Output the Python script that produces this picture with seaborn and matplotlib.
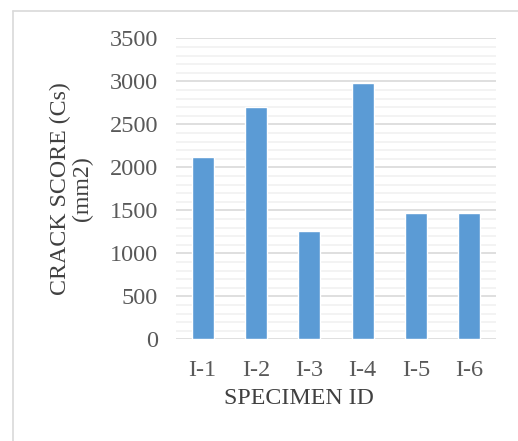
import matplotlib
matplotlib.use("Agg")
import matplotlib.pyplot as plt
from matplotlib.lines import Line2D
from matplotlib.ticker import MultipleLocator
import seaborn as sns
import pandas as pd

# Crack score per specimen
specimens = ["I-1", "I-2", "I-3", "I-4", "I-5", "I-6"]
crack_scores = [2125, 2700, 1265, 2985, 1470, 1470]
y_ticks = [0, 500, 1000, 1500, 2000, 2500, 3000, 3500]

df = pd.DataFrame({"specimen": specimens, "score": crack_scores})

sns.set_theme(style="white")
plt.rcParams["font.family"] = ["Liberation Serif", "DejaVu Serif"]

fig = plt.figure(figsize=(5.18, 4.41), dpi=100)
W, H = 518, 441
ax = fig.add_axes([176 / W, 1 - 339.3 / H, 320 / W, 301 / H])

sns.barplot(data=df, x="specimen", y="score", color="#5B9BD5",
            width=0.41, saturation=1, ax=ax, zorder=3)

ax.set_ylim(0, 3500)
ax.set_xlim(-0.5, len(specimens) - 0.5)
ax.set_yticks(y_ticks)
ax.yaxis.set_minor_locator(MultipleLocator(100))

ax.grid(axis="y", which="major", color="#d9d9d9", linewidth=1.2, zorder=0)
ax.grid(axis="y", which="minor", color="#f0f0f0", linewidth=1.1, zorder=0)
ax.grid(axis="x", visible=False)
ax.set_axisbelow(True)
for s in ax.spines.values():
    s.set_visible(False)

ax.tick_params(axis="both", which="both", length=0, labelsize=17.5,
               labelcolor="#595959")
ax.tick_params(axis="x", pad=15)
ax.tick_params(axis="y", pad=13)

ax.set_ylabel("CRACK SCORE (Cs)\n(mm2)", fontsize=17.2, color="#404040",
              va="center", ha="center", linespacing=1.0)
ax.yaxis.set_label_coords(-0.3266, 0.50)
ax.set_xlabel("SPECIMEN ID", fontsize=17.2, color="#404040",
              va="center", ha="center")
ax.xaxis.set_label_coords(0.384, -0.197)

# Chart-area frame (top and left edges)
frame_kw = dict(color="#d9d9d9", linewidth=1.2, transform=fig.transFigure)
fig.add_artist(Line2D([12.5 / W, 1.0], [1 - 10.5 / H, 1 - 10.5 / H], **frame_kw))
fig.add_artist(Line2D([12.5 / W, 12.5 / W], [0.0, 1 - 10.5 / H], **frame_kw))

fig.savefig("out.png", dpi=100)
